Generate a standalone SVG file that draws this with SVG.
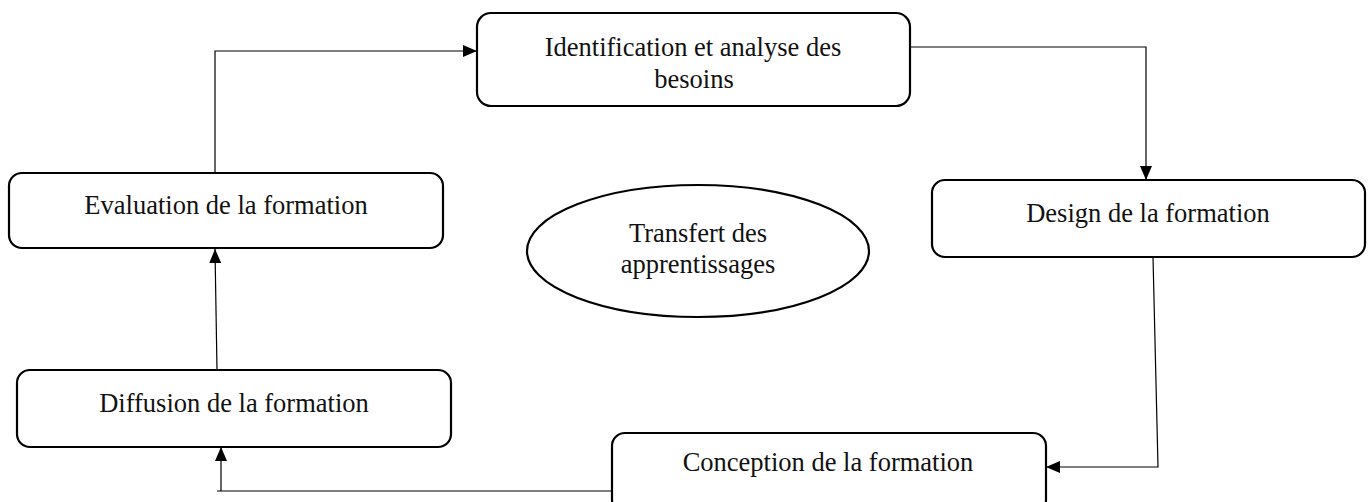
<svg xmlns="http://www.w3.org/2000/svg" width="1372" height="502" viewBox="0 0 1372 502">
  <style>
    .box { fill: #ffffff; stroke: #000000; stroke-width: 2.2; }
    .lbl { font-family: "Liberation Serif", "Times New Roman", serif; font-size: 26.5px; fill: #111111; text-anchor: middle; }
    .link { fill: none; stroke: #000000; stroke-width: 1.2; }
  </style>
  <defs>
    <marker id="arrow" markerUnits="userSpaceOnUse" markerWidth="14" markerHeight="12" refX="14" refY="6" orient="auto">
      <path d="M0,0 L14,6 L0,12 z" fill="#000000"/>
    </marker>
  </defs>
  <rect width="1372" height="502" fill="#ffffff"/>

  <!-- connectors -->
  <g id="connectors">
    <path class="link" d="M215 173 V51 H477" marker-end="url(#arrow)"/>
    <path class="link" d="M910 47 H1146 V180" marker-end="url(#arrow)"/>
    <path class="link" d="M1153 257 L1158 467 H1046" marker-end="url(#arrow)"/>
    <path class="link" d="M612 491 H217 M221 491 V447" marker-end="url(#arrow)"/>
    <path class="link" d="M217 370 L215 249" marker-end="url(#arrow)"/>
  </g>

  <g id="node-identification">
    <rect class="box" x="477" y="13" width="433" height="93" rx="14"/>
    <text class="lbl" x="693" y="56">Identification et analyse des</text>
    <text class="lbl" x="694" y="88">besoins</text>
  </g>

  <g id="node-design">
    <rect class="box" x="932" y="180" width="433" height="77" rx="13"/>
    <text class="lbl" x="1148" y="222">Design de la formation</text>
  </g>

  <g id="node-conception">
    <rect class="box" x="612" y="433" width="434" height="80" rx="13"/>
    <text class="lbl" x="828" y="471">Conception de la formation</text>
  </g>

  <g id="node-diffusion">
    <rect class="box" x="17" y="370" width="434" height="77" rx="13"/>
    <text class="lbl" x="234" y="412">Diffusion de la formation</text>
  </g>

  <g id="node-evaluation">
    <rect class="box" x="9" y="173" width="434" height="75" rx="13"/>
    <text class="lbl" x="226" y="214">Evaluation de la formation</text>
  </g>

  <g id="node-transfert">
    <ellipse class="box" cx="698" cy="251" rx="171" ry="66"/>
    <text class="lbl" x="698" y="242">Transfert des</text>
    <text class="lbl" x="698" y="273">apprentissages</text>
  </g>
</svg>
